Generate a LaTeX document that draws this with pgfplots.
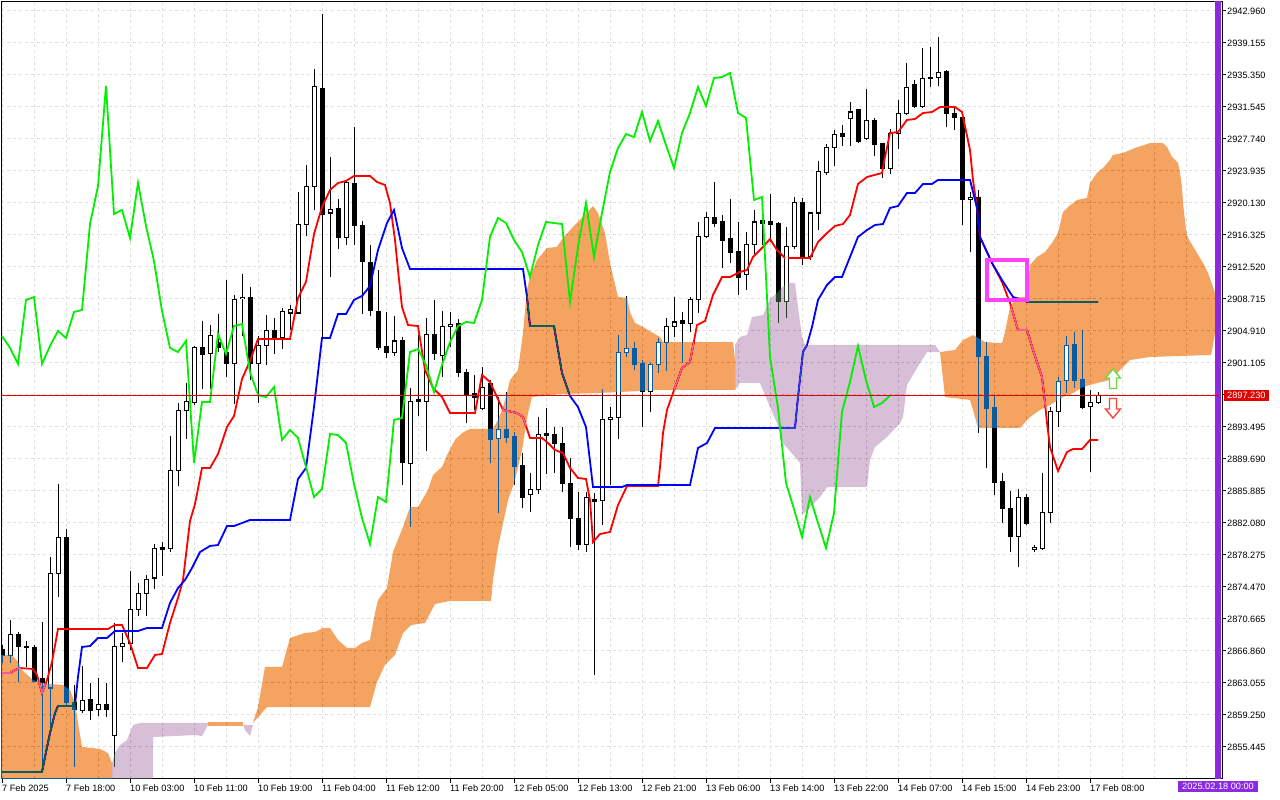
\documentclass[border=0pt]{standalone}
\usepackage{fontspec}
\setmainfont{Liberation Sans}
\usepackage{pgfplots}
\pgfplotsset{compat=1.18}
\usepackage{pgfplotstable}
\definecolor{tenkan}{RGB}{255,0,0}
\definecolor{kijun}{RGB}{0,0,255}
\definecolor{chikou}{RGB}{0,240,0}
\definecolor{orangeinv}{RGB}{11,91,159}
\definecolor{purpleinv}{RGB}{39,64,39}
\definecolor{gridc}{RGB}{222,222,222}
\definecolor{sepc}{RGB}{138,43,226}
\definecolor{pricered}{RGB}{225,0,0}
\definecolor{boxmag}{RGB}{255,64,255}
\definecolor{upg}{RGB}{110,215,60}
\definecolor{dnr}{RGB}{245,70,60}

\pgfplotstableread{
i o h l c w
0 2866.98 2867.57 2865.43 2866.27 0
1 2866.27 2870.55 2865.43 2868.88 0
2 2868.88 2869.12 2863.17 2867.45 0
3 2867.45 2868.05 2864.96 2867.22 0
4 2867.22 2867.57 2863.17 2863.29 0
5 2863.53 2870.31 2852.35 2863.06 0
6 2862.46 2878.04 2857.11 2876.13 0
7 2876.13 2886.72 2873.28 2880.30 0
8 2880.30 2881.37 2860.44 2860.68 0
9 2860.68 2862.82 2853.07 2859.96 0
10 2859.73 2865.08 2859.49 2861.03 0
11 2861.15 2863.06 2858.66 2859.73 0
12 2859.96 2863.65 2859.13 2860.44 0
13 2860.44 2863.06 2859.01 2859.96 0
14 2856.87 2870.19 2853.07 2867.34 0
15 2867.34 2869.00 2865.55 2867.81 0
16 2867.81 2876.37 2866.98 2871.74 0
17 2871.74 2874.95 2871.02 2873.64 0
18 2873.64 2875.90 2871.02 2875.42 0
19 2875.54 2879.58 2874.23 2878.99 0
20 2879.11 2879.82 2875.78 2878.87 0
21 2878.99 2892.43 2878.63 2888.38 0
22 2888.38 2896.35 2886.48 2895.40 0
23 2895.40 2898.73 2892.07 2896.47 0
24 2896.35 2903.13 2896.11 2902.89 0
25 2902.89 2906.10 2898.01 2902.06 0
26 2902.18 2905.62 2898.01 2904.32 0
27 2903.60 2906.93 2902.41 2902.89 0
28 2902.41 2910.97 2899.44 2900.99 0
29 2900.99 2909.19 2896.23 2908.60 0
30 2908.72 2911.69 2904.32 2908.95 0
31 2908.95 2910.14 2899.08 2900.99 0
32 2900.99 2904.32 2896.35 2903.13 0
33 2903.13 2906.81 2900.87 2904.91 0
34 2904.91 2906.46 2902.18 2904.08 0
35 2904.08 2907.65 2902.77 2907.17 0
36 2907.05 2908.00 2905.03 2907.41 0
37 2907.05 2921.44 2906.93 2917.63 0
38 2917.63 2924.65 2916.21 2922.15 0
39 2922.15 2936.06 2919.30 2934.04 0
40 2933.69 2942.60 2903.96 2918.82 0
41 2918.94 2925.60 2911.33 2919.30 0
42 2919.42 2920.61 2914.66 2915.97 0
43 2915.97 2922.86 2915.14 2922.51 0
44 2922.39 2929.17 2915.14 2917.40 0
45 2917.51 2917.99 2906.93 2913.23 0
46 2913.00 2915.14 2906.69 2907.29 0
47 2907.17 2912.16 2902.65 2902.89 0
48 2903.01 2907.17 2901.70 2902.41 0
49 2902.41 2906.69 2901.94 2903.72 0
50 2903.72 2904.20 2886.60 2889.22 0
51 2889.10 2898.13 2881.61 2896.47 0
52 2896.71 2904.43 2894.80 2896.47 0
53 2896.47 2906.46 2890.64 2904.55 0
54 2904.55 2908.60 2901.46 2902.18 0
55 2901.94 2907.29 2899.44 2905.50 0
56 2905.39 2907.17 2903.01 2905.74 0
57 2905.86 2906.34 2899.44 2900.03 0
58 2900.03 2900.39 2893.97 2897.30 0
59 2897.42 2899.68 2895.52 2897.06 0
60 2895.64 2900.63 2895.52 2898.25 0
61 2898.61 2899.08 2889.22 2891.95 0
62 2892.07 2897.06 2883.27 2893.14 1
63 2893.14 2897.66 2891.59 2892.19 0
64 2892.31 2892.90 2886.60 2888.74 0
65 2888.86 2890.40 2883.86 2885.17 0
66 2885.41 2888.03 2883.39 2886.12 0
67 2886.12 2894.68 2885.53 2892.66 0
68 2892.78 2895.75 2887.91 2892.54 0
69 2892.66 2893.50 2888.03 2891.59 0
70 2891.59 2893.50 2885.77 2886.72 0
71 2886.72 2889.81 2879.23 2882.67 0
72 2882.67 2885.77 2878.87 2879.58 0
73 2879.58 2885.77 2878.63 2885.17 0
74 2884.93 2885.65 2864.01 2884.58 0
75 2884.70 2898.01 2881.84 2894.33 0
76 2894.33 2895.87 2886.60 2894.57 0
77 2894.57 2904.43 2892.07 2902.41 1
78 2902.41 2909.07 2901.82 2902.77 1
79 2902.77 2903.60 2900.27 2900.87 0
80 2900.99 2901.46 2893.50 2897.66 0
81 2897.66 2901.10 2895.28 2900.87 1
82 2900.87 2904.08 2899.92 2903.60 1
83 2903.60 2906.46 2900.15 2905.50 1
84 2905.50 2908.95 2904.20 2905.98 0
85 2906.10 2907.17 2901.10 2905.86 0
86 2905.86 2908.95 2904.79 2908.60 0
87 2908.60 2917.87 2907.05 2916.09 0
88 2916.09 2919.06 2915.97 2918.35 0
89 2918.35 2922.63 2917.28 2917.75 0
90 2917.87 2918.70 2912.40 2915.73 0
91 2915.85 2920.61 2913.00 2914.30 0
92 2914.42 2917.87 2909.19 2911.33 0
93 2911.57 2916.68 2909.79 2915.14 0
94 2915.14 2919.30 2914.07 2917.87 0
95 2917.99 2918.47 2915.14 2917.75 0
96 2917.87 2921.20 2915.49 2917.63 0
97 2917.75 2917.87 2905.86 2908.36 0
98 2908.36 2917.28 2906.46 2914.90 1
99 2914.90 2920.84 2914.66 2920.13 0
100 2920.13 2920.73 2912.76 2913.71 0
101 2913.71 2919.06 2913.35 2918.94 0
102 2918.94 2925.12 2916.92 2923.82 0
103 2923.70 2927.15 2923.46 2926.67 0
104 2926.67 2928.81 2924.53 2928.33 0
105 2928.45 2929.41 2926.91 2927.98 0
106 2930.12 2932.14 2926.91 2930.95 0
107 2931.19 2931.31 2927.26 2927.50 0
108 2927.74 2933.69 2927.62 2929.88 0
109 2929.88 2930.24 2925.72 2927.03 0
110 2927.15 2927.26 2923.10 2924.29 0
111 2924.29 2928.93 2923.58 2928.45 0
112 2928.45 2932.38 2926.55 2930.83 0
113 2930.83 2936.78 2930.59 2933.92 0
114 2934.16 2934.76 2931.43 2931.66 0
115 2931.66 2938.56 2931.43 2934.99 0
116 2934.99 2938.68 2933.92 2935.11 0
117 2935.11 2939.87 2934.04 2935.59 0
118 2935.71 2935.94 2929.17 2930.83 0
119 2930.83 2931.43 2928.81 2930.24 0
120 2930.24 2930.83 2917.51 2920.49 0
121 2920.49 2921.44 2914.30 2920.84 0
122 2920.84 2921.68 2892.78 2901.82 0
123 2901.82 2903.60 2888.62 2895.75 0
124 2895.87 2897.30 2885.41 2886.84 0
125 2886.96 2888.03 2882.08 2883.75 0
126 2883.75 2885.89 2878.63 2880.42 0
127 2880.53 2886.12 2876.85 2885.17 0
128 2885.17 2885.53 2881.84 2882.08 0
129 2878.87 2879.46 2878.63 2879.11 0
130 2878.99 2888.03 2878.87 2883.27 0
131 2883.27 2895.87 2882.08 2895.28 0
132 2895.28 2899.44 2893.50 2898.85 1
133 2899.08 2904.32 2897.54 2903.13 1
134 2903.25 2904.79 2898.13 2899.08 0
135 2899.20 2905.03 2895.64 2895.87 0
136 2895.99 2897.90 2888.14 2896.35 0
137 2896.35 2897.66 2896.23 2897.23 0
}\candles

\pgfplotstableread{
x y
0 2864.24
1 2864.24
1.625 2864.60
2.25 2864.84
3.875 2864.72
4.375 2864.01
5 2861.87
5.625 2863.41
6.25 2865.55
7 2869.48
13.25 2869.48
14.125 2869.95
15 2869.95
16 2867.81
17 2864.84
18.125 2864.84
19.125 2866.39
20 2866.50
21 2870.19
22 2873.16
22.625 2875.30
23.5 2882.32
24.125 2884.34
25 2888.62
26 2888.62
27 2890.28
28.125 2893.50
29 2894.80
30 2899.20
31 2901.34
32 2903.96
36 2903.96
37 2908.83
38 2910.74
39 2916.44
40 2919.65
41 2921.68
42 2922.51
43 2922.75
44 2923.34
46 2923.34
46.875 2922.63
47.875 2922.27
48.5 2920.13
49.125 2915.73
49.5 2912.16
50 2907.76
50.75 2905.62
52 2905.50
52.875 2900.27
53.875 2898.13
55 2897.06
56 2895.16
59.125 2895.16
60 2899.68
61 2898.85
61.875 2897.06
62.625 2895.52
64.375 2895.16
65.125 2894.68
66 2892.19
67.5 2892.19
68.25 2891.59
69.125 2890.76
70.125 2890.40
71 2888.62
72 2887.43
73 2887.31
73.5 2884.81
73.875 2879.82
74.75 2880.77
76 2881.01
77 2884.22
78.125 2886.48
82 2886.48
82.25 2888.74
82.625 2892.78
83.125 2895.52
83.875 2897.54
85 2900.51
86 2901.22
86.875 2905.62
87.875 2906.10
88.875 2909.19
90 2911.33
91 2911.33
92.25 2911.93
93.125 2912.16
93.875 2913.71
95 2914.78
96 2915.85
96.875 2914.54
97.875 2913.59
101 2913.59
102 2915.49
103.125 2916.56
104.125 2917.40
105.125 2917.63
106 2918.70
107 2922.39
108.125 2923.22
110 2923.70
110.25 2925.00
111 2928.45
112 2928.57
113.125 2930.00
114.125 2930.12
115.125 2930.83
116.25 2930.95
117.25 2931.54
119.125 2931.54
120 2930.95
121 2926.43
121.375 2922.86
121.875 2919.54
122.25 2916.09
123.75 2913.00
125 2910.74
126 2908.24
127 2905.03
128.125 2905.03
128.875 2902.65
130 2899.44
130.375 2896.35
130.625 2893.97
131 2891.12
132 2888.26
133.125 2890.52
133.875 2890.88
135 2890.88
136 2891.95
137 2891.95
}\tenkan

\pgfplotstableread{
x y
0 2852.47
5 2852.47
5.375 2854.26
6 2857.11
6.625 2859.49
7 2860.32
8.75 2860.32
9.125 2860.44
9.5 2863.77
10 2867.34
11 2867.45
12 2868.41
13.125 2868.41
14.125 2869.24
17 2869.24
18.125 2869.59
20 2869.59
21 2872.57
22 2874.35
22.875 2875.30
23.75 2876.73
24.75 2878.63
26 2879.35
27 2879.46
28.125 2881.72
29 2881.72
30 2882.08
31 2882.44
36 2882.44
37 2887.31
38 2888.62
39 2895.87
40 2904.08
41 2904.08
42 2906.93
43 2906.93
44 2908.60
45 2909.07
46 2910.26
47 2914.54
48.125 2917.75
49 2919.30
50 2914.78
51 2912.28
65.125 2912.28
65.625 2908.95
66 2905.50
69 2905.50
70 2899.92
71 2897.18
72 2895.87
73 2893.50
73.875 2886.36
77.5 2886.36
78.125 2886.60
86 2886.60
87 2891.00
88.125 2891.59
89.125 2893.38
99.125 2893.38
99.5 2897.06
100.125 2902.41
100.625 2903.25
101.25 2905.39
102 2908.60
103.125 2910.38
104.125 2911.33
105 2911.33
106 2913.71
107 2916.09
108.125 2916.92
109.125 2917.51
110.125 2917.63
111 2919.54
112 2919.77
113.125 2921.32
114.125 2921.32
115.125 2922.39
116.25 2922.39
117 2922.87
121 2922.87
121.875 2919.54
122.25 2916.09
123.75 2913.00
125 2910.97
126.375 2908.95
128.25 2908.36
137 2908.36
}\kijun

% Kumo regions (Senkou Span A / B boundaries), orange: A above B, purple: B above A
\pgfplotstableread{
x y
-1 2866.39
1.25 2866.39
2 2865.55
2.5 2864.60
3.875 2863.41
5.125 2863.06
6 2862.94
7.625 2862.82
8.5 2862.22
9.125 2860.68
9.5 2858.30
10 2855.45
12.25 2855.21
13.25 2854.73
13.75 2853.54
13.75 2848
-1 2848
}\cloudA
\pgfplotstableread{
x y
13.75 2848
13.75 2853.54
14.125 2854.73
14.75 2855.68
15.625 2856.28
16.375 2858.06
17.25 2858.30
25.75 2858.30
25.75 2858.06
25 2856.75
24.125 2856.87
18.875 2856.63
18.875 2848
}\cloudB
\pgfplotstableread{
x y
25.75 2858.42
30.125 2858.42
30.125 2857.94
25.75 2857.94
}\cloudC
\pgfplotstableread{
x y
30.125 2858.06
31.375 2858.06
31 2856.75
30.375 2857.47
}\cloudD
\pgfplotstableread{
x y
31.375 2858.30
32 2860.20
32.875 2864.96
35 2864.96
36 2868.41
37.875 2869.00
39.125 2869.12
40.125 2869.59
41 2869.59
42 2868.17
43.125 2867.22
44.125 2867.22
45 2867.81
46 2868.17
46.625 2871.38
47 2872.92
48.125 2874.35
48.875 2878.63
50.125 2881.61
51 2883.98
52 2883.98
53.25 2886.00
53.875 2887.79
55 2888.74
55.75 2890.40
56.625 2891.95
57.5 2892.78
58.5 2893.26
61.375 2893.26
62 2894.33
62.625 2895.87
63.125 2897.54
63.5 2899.08
64.5 2900.27
65.125 2904.67
65.625 2909.79
66 2911.33
66.875 2913.35
68.125 2914.78
69.375 2914.90
70.125 2915.97
71.375 2917.28
72.5 2918.35
73.875 2919.77
74.5 2918.94
75.375 2916.56
76 2913.00
77 2908.95
78.125 2908.83
78.5 2907.17
79.125 2905.86
80.125 2905.39
81.375 2904.67
82.25 2904.20
82.625 2903.60
91.375 2903.60
91.625 2901.46
91.625 2897.90
87.25 2897.90
82.25 2897.90
74.75 2897.54
69.75 2897.42
66.25 2897.06
65.75 2895.16
65 2890.76
64.125 2887.19
63.25 2884.81
62 2879.23
61.375 2875.30
61.125 2872.81
56 2872.81
54.125 2872.45
52.875 2870.19
51.125 2869.95
50.125 2869.00
49.125 2866.39
47.875 2865.20
46.875 2863.17
46 2860.20
33.125 2860.20
}\cloudE
\pgfplotstableread{
x y
91.625 2903.25
92.25 2904.20
93.125 2904.43
93.75 2906.58
95.125 2906.81
96 2908.72
96.875 2909.43
98.125 2910.62
99.125 2910.62
99.5 2907.76
100 2904.20
100.375 2903.25
116.625 2903.25
117.25 2902.41
115.625 2902.41
114.75 2901.10
113.125 2898.49
112.625 2894.68
112.25 2893.97
110.625 2892.31
109.125 2891.12
108.5 2889.57
108.125 2886.36
103.125 2886.36
102.25 2885.17
101 2883.98
100 2883.03
99.75 2889.22
99.125 2889.93
97.625 2891.59
96.875 2893.97
96 2895.87
94.75 2898.73
92.25 2898.73
91.625 2897.90
}\cloudF
\pgfplotstableread{
x y
117.25 2902.41
119.125 2902.65
120.125 2903.84
121.375 2904.43
122.875 2903.60
124.375 2903.48
125 2903.48
125.375 2904.79
126 2907.76
126.875 2908.95
128.125 2908.95
128.5 2912.76
129.375 2913.71
130.375 2914.30
131.25 2915.37
132 2916.56
132.625 2919.06
133.25 2919.65
134.375 2920.49
135.625 2920.73
136 2922.51
136.875 2923.70
137.625 2924.29
138.5 2925.24
138.875 2925.84
140.125 2926.08
141.625 2926.67
143.5 2927.26
145.125 2927.26
145.625 2926.79
146.25 2925.60
147 2924.89
147.25 2923.70
147.5 2922.03
147.625 2920.13
148 2916.92
148.25 2915.97
149.375 2914.19
150.125 2913.00
150.75 2911.81
151.375 2910.14
151.625 2909.43
151.75 2906.58
151.625 2904.67
151.375 2903.25
151.125 2902.06
143.5 2901.82
141 2901.46
138.5 2899.08
136.875 2898.73
135.125 2898.25
133.875 2897.54
132.625 2897.06
131 2896.11
129.75 2895.52
128.5 2894.68
127.25 2893.38
122 2893.38
121.375 2895.52
121 2896.71
117.875 2897.06
}\cloudG

\begin{document}
\begin{tikzpicture}
\useasboundingbox (0,0) rectangle (1280bp,800bp);
\begin{axis}[
  at={(1bp,21bp)}, anchor=south west,
  width=1221bp, height=777bp, scale only axis,
  xmin=-0.125, xmax=152.5, ymin=2851.64, ymax=2944.03,
  axis background/.style={fill=white},
  axis line style={black, line width=1bp},
  tick align=outside, major tick length=4bp, minor tick length=0pt,
  xtick pos=left, ytick pos=right, yticklabel pos=right,
  tick style={black, line width=1bp},
  xtick={0,8,...,136},
  xticklabels={7 Feb 2025,7 Feb 18:00,10 Feb 03:00,10 Feb 11:00,10 Feb 19:00,11 Feb 04:00,11 Feb 12:00,11 Feb 20:00,12 Feb 05:00,12 Feb 13:00,12 Feb 21:00,13 Feb 06:00,13 Feb 14:00,13 Feb 22:00,14 Feb 07:00,14 Feb 15:00,14 Feb 23:00,17 Feb 08:00},
  minor xtick={4,12,20,28,36,44,52,60,68,76,84,92,100,108,116,124,132,140,144,148},
  ytick={2855.445,2859.250,2863.055,2866.860,2870.665,2874.470,2878.275,2882.080,2885.885,2889.690,2893.495,2897.300,2901.105,2904.910,2908.715,2912.520,2916.325,2920.130,2923.935,2927.740,2931.545,2935.350,2939.155,2942.960},
  yticklabels={2855.445,2859.250,2863.055,2866.860,2870.665,2874.470,2878.275,2882.080,2885.885,2889.690,2893.495,2897.300,2901.105,2904.910,2908.715,2912.520,2916.325,2920.130,2923.935,2927.740,2931.545,2935.350,2939.155,2942.960},
  grid=both,
  major grid style={gridc, dash pattern=on 3bp off 3bp, line width=1bp},
  minor grid style={gridc, dash pattern=on 3bp off 3bp, line width=1bp},
  tick label style={font=\fontsize{9.2bp}{11bp}\selectfont},
  xticklabel style={anchor=north west, inner sep=0pt, xshift=0bp, yshift=-2bp},
  yticklabel style={anchor=west, inner sep=0pt, xshift=1bp},
]
% wicks
\addplot[draw=none, mark=none, forget plot, error bars/.cd, y dir=plus, y explicit, error mark=none, error bar style={draw=black, line width=1bp}]
  table[x=i, y=l, y error plus expr={\thisrow{h}-\thisrow{l}}] {\candles};
% bullish bodies (outline)
\addplot[draw=none, mark=none, forget plot, error bars/.cd, y dir=plus, y explicit, error mark=none, error bar style={draw=black, line width=5bp}]
  table[x=i, y expr={\thisrow{o}-0.06}, y error plus expr={(\thisrow{c}>=\thisrow{o}) ? (\thisrow{c}-\thisrow{o}+0.12) : 0}] {\candles};
% bullish bodies (white inside)
\addplot[draw=none, mark=none, forget plot, error bars/.cd, y dir=plus, y explicit, error mark=none, error bar style={draw=white, line width=3bp}]
  table[x=i, y expr={\thisrow{o}+0.06}, y error plus expr={(\thisrow{c}-\thisrow{o}>0.12) ? (\thisrow{c}-\thisrow{o}-0.12) : 0}] {\candles};
% bearish bodies
\addplot[draw=none, mark=none, forget plot, error bars/.cd, y dir=plus, y explicit, error mark=none, error bar style={draw=black, line width=5bp}]
  table[x=i, y expr={\thisrow{c}-0.06}, y error plus expr={(\thisrow{o}>\thisrow{c}) ? (\thisrow{o}-\thisrow{c}+0.12) : 0}] {\candles};
% Tenkan-sen and Kijun-sen
\addplot[tenkan, line width=1.8bp, mark=none, forget plot] table {\tenkan};
\addplot[kijun, line width=1.8bp, mark=none, forget plot] table {\kijun};
% Kumo
\addplot[fill=orangeinv, draw=none, blend mode=difference, forget plot] table {\cloudA};
\addplot[fill=purpleinv, draw=none, blend mode=difference, forget plot] table {\cloudB};
\addplot[fill=orangeinv, draw=none, blend mode=difference, forget plot] table {\cloudC};
\addplot[fill=purpleinv, draw=none, blend mode=difference, forget plot] table {\cloudD};
\addplot[fill=orangeinv, draw=none, blend mode=difference, forget plot] table {\cloudE};
\addplot[fill=purpleinv, draw=none, blend mode=difference, forget plot] table {\cloudF};
\addplot[fill=orangeinv, draw=none, blend mode=difference, forget plot] table {\cloudG};
% white bodies of bullish candles inside the cloud
\addplot[draw=none, mark=none, forget plot, error bars/.cd, y dir=plus, y explicit, error mark=none, error bar style={draw=white, line width=3bp}]
  table[x=i, y expr={\thisrow{o}+0.06}, y error plus expr={(\thisrow{w}*(\thisrow{c}-\thisrow{o})>0.12) ? (\thisrow{c}-\thisrow{o}-0.12) : 0}] {\candles};
% Chikou span (close shifted 26 bars back)
\addplot[chikou, line width=1.8bp, mark=none, forget plot, restrict x to domain=-0.5:200] table[x expr=\thisrow{i}-26, y=c] {\candles};
% period separator
\addplot[sepc, line width=5.5bp, mark=none, forget plot] coordinates {(152,2840) (152,2950)};
% highlight box
\draw[boxmag, line width=4bp] (axis cs:123.125,2908.60) rectangle (axis cs:128.125,2913.35);
\coordinate (sep) at (axis cs:152,2851.64);
\coordinate (pl) at (axis cs:-0.125,2897.24);
\coordinate (pr) at (axis cs:152.5,2897.24);
\coordinate (up) at (axis cs:138.875,2899.20);
\coordinate (dn) at (axis cs:138.875,2895.75);
\end{axis}
% bid line and label
\draw[draw=pricered, line width=1.4bp] (pl) -- ([xshift=-3.5bp]pr);
\node[fill=pricered, text=white, anchor=west, inner xsep=3bp, inner ysep=2bp, font=\fontsize{9.2bp}{11bp}\selectfont] at ([xshift=2bp]pr) {2897.230};
\node[fill=sepc, text=white, anchor=north, inner xsep=4bp, inner ysep=2bp, font=\fontsize{9.2bp}{11bp}\selectfont] at ([yshift=-2bp]sep) {2025.02.18 00:00};
\draw[x=1bp, y=1bp, shift={(up)}, draw=upg, line width=1.4bp, fill=white, line join=miter]
  (0,10)--(7.5,1)--(3.5,1)--(3.5,-9.5)--(-3.5,-9.5)--(-3.5,1)--(-7.5,1)--cycle;
\draw[x=1bp, y=1bp, shift={(dn)}, draw=dnr, line width=1.4bp, fill=white, line join=miter]
  (0,-10)--(7.5,-1)--(3.5,-1)--(3.5,9.5)--(-3.5,9.5)--(-3.5,-1)--(-7.5,-1)--cycle;
\end{tikzpicture}
\end{document}
